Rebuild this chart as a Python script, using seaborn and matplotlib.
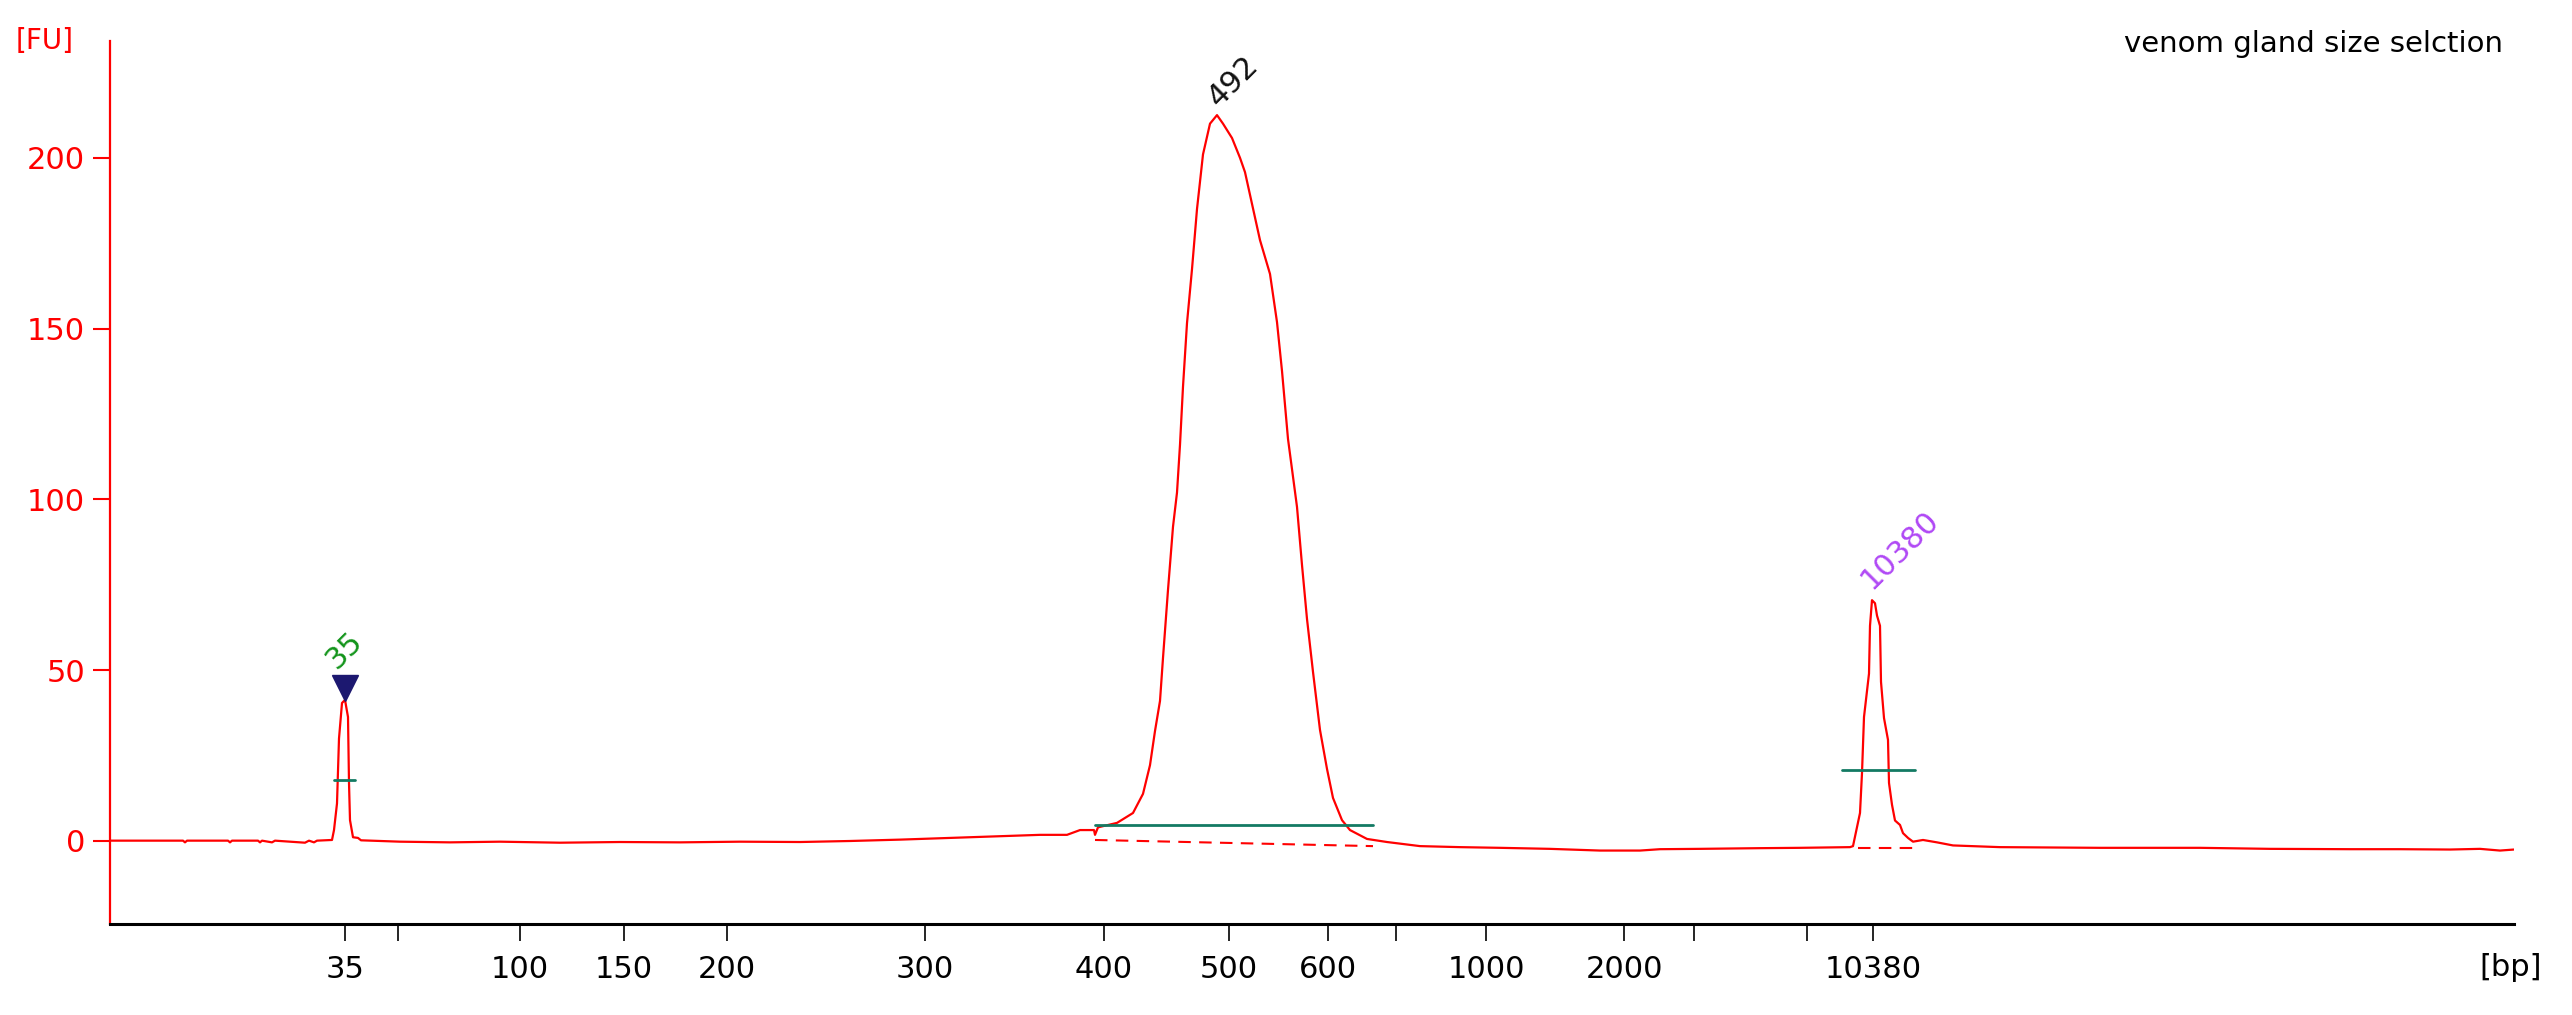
import matplotlib
matplotlib.use("Agg")
import matplotlib.pyplot as plt
import seaborn as sns
import pandas as pd

# ---------------- data ----------------
# migration time (s) and fluorescence (FU)
time_s = [2.75, 4.575, 4.625, 4.675, 5.70, 5.75, 5.80, 6.45, 6.50, 6.55, 6.80, 6.875,
          7.625, 7.725, 7.85, 7.925, 8.30, 8.35, 8.425, 8.475, 8.55, 8.625, 8.70, 8.725,
          8.75, 8.825, 8.95, 9.025, 10.0, 11.25, 12.5, 14.0, 15.5, 17.0, 18.5, 20.0,
          21.25, 22.5, 23.5, 24.5, 25.25, 26.0, 26.675, 27.0, 27.35, 27.375, 27.45,
          27.925, 28.325, 28.575, 28.75, 28.875, 29.0, 29.075, 29.2, 29.325, 29.425,
          29.5, 29.575, 29.675, 29.8, 29.925, 30.075, 30.25, 30.425, 30.575, 30.8,
          31.0, 31.125, 31.3, 31.5, 31.75, 31.925, 32.05, 32.2, 32.425, 32.55, 32.675,
          32.825, 33.0, 33.175, 33.325, 33.55, 33.75, 34.175, 34.675, 35.5, 36.5, 37.5,
          38.75, 40.0, 41.0, 41.5, 42.5, 44.0, 45.0, 46.25, 46.325, 46.4, 46.5, 46.55,
          46.6, 46.725, 46.75, 46.8, 46.875, 46.925, 47.0, 47.025, 47.1, 47.2, 47.225,
          47.3, 47.375, 47.5, 47.575, 47.7, 47.825, 48.075, 48.425, 48.825, 50.0, 52.5,
          55.0, 56.75, 58.75, 60.0, 61.25, 62.0, 62.5, 62.85]
fluor_fu = [0.1, 0.1, -0.4, 0.1, 0.1, -0.4, 0.1, 0.1, -0.4, 0.1, -0.4, 0.1,
            -0.5, 0.1, -0.4, 0.1, 0.3, 3.2, 11.0, 30.0, 40.4, 41.3, 36.3, 17.0,
            6.1, 1.1, 0.9, 0.2, -0.2, -0.4, -0.2, -0.5, -0.3, -0.4, -0.2, -0.3,
            0.0, 0.4, 0.8, 1.2, 1.5, 1.8, 1.8, 3.2, 3.2, 1.8, 4.0,
            5.3, 8.2, 13.8, 22.2, 32.2, 41.0, 53.6, 73.5, 92.0, 102.0,
            116.0, 133.0, 151.6, 167.4, 185.0, 201.0, 210.0, 212.5, 210.0, 205.8,
            200.0, 195.8, 186.5, 175.9, 166.0, 151.9, 137.6, 117.7, 97.8, 80.8, 65.0,
            49.5, 32.5, 21.1, 12.6, 6.1, 3.2, 0.6, -0.3, -1.5, -1.8, -2.0,
            -2.3, -2.8, -2.8, -2.4, -2.3, -2.1, -2.0, -1.8, -1.5, 2.7, 8.2, 19.9,
            36.3, 49.0, 63.0, 70.5, 69.6, 66.0, 63.0, 46.6, 36.0, 29.6, 17.0,
            10.6, 6.0, 4.7, 2.3, 0.9, -0.2, 0.3, -0.4, -1.3, -1.8, -2.0,
            -2.0, -2.3, -2.4, -2.4, -2.5, -2.3, -2.8, -2.5]

# sizing ladder on the time axis
ladder_time = [8.625, 9.95, 13.0, 15.6, 18.175, 23.125, 27.6, 30.725, 33.2, 34.9,
               37.15, 40.6, 42.35, 45.175, 46.825]
ladder_labels = ["35", "", "100", "150", "200", "300", "400", "500", "600", "",
                 "1000", "2000", "", "", "10380"]

# called peaks
peak_time = [8.625, 30.425, 46.825]
peak_height = [41.3, 212.5, 70.5]
peak_labels = ["35", "492", "10380"]
peak_colors = ["#12941a", "#111111", "#b048f5"]

# peak integration windows (start, end, level of the marker line)
win_start = [8.35, 27.375, 46.05]
win_end = [8.875, 34.325, 47.875]
win_level = [17.9, 4.7, 20.8]

# baselines drawn under smear / upper marker
base_start = [27.375, 46.45]
base_end = [34.325, 47.825]
base_start_fu = [0.3, -2.0]
base_end_fu = [-1.5, -2.0]

y_ticks = [0, 50, 100, 150, 200]

# ---------------- plot ----------------
sns.set_theme(style="white")
plt.rcParams['font.family'] = ['DejaVu Sans']

W, H = 2572, 1015
fig = plt.figure(figsize=(W / 100, H / 100), dpi=100)
ax = fig.add_axes([110 / W, 1 - 924 / H, (2514 - 110) / W, (924 - 41) / H])

df = pd.DataFrame({"time": time_s, "FU": fluor_fu})
sns.lineplot(data=df, x="time", y="FU", sort=False, estimator=None,
             color="#ff0000", lw=1.6, ax=ax, zorder=3)

for s, e, lv in zip(win_start, win_end, win_level):
    ax.plot([s, e], [lv, lv], color="#137a63", lw=2.0, zorder=4)

for s, e, a, b in zip(base_start, base_end, base_start_fu, base_end_fu):
    ax.plot([s, e], [a, b], color="#ff0000", lw=1.5, dashes=(6, 4), zorder=2)

# lower marker triangle
ax.plot([peak_time[0]], [peak_height[0] + 3.6], marker="v", ms=18.5,
        color="#1c1870", zorder=5, linestyle="none")

label_offsets = [8.8, 2.0, 3.0]
label_shift = [-8, 2, -1]
for t, h, lab, c, off, sh in zip(peak_time, peak_height, peak_labels, peak_colors,
                                 label_offsets, label_shift):
    ax.annotate(lab, xy=(t, h + off), xytext=(sh, 0), textcoords="offset pixels",
                rotation=45, rotation_mode="anchor", ha="left", va="baseline",
                fontsize=22, color=c, zorder=6)

ax.set_xlim(2.75, 62.85)
ax.set_ylim(-24.3, 234.2)
ax.set_xticks(ladder_time)
ax.set_xticklabels(ladder_labels)
ax.set_yticks(y_ticks)
ax.set_yticklabels([str(v) for v in y_ticks])
ax.set_xlabel("")
ax.set_ylabel("")

for sp in ["top", "right"]:
    ax.spines[sp].set_visible(False)
ax.spines["left"].set_color("#ff0000")
ax.spines["left"].set_linewidth(1.6)
ax.spines["bottom"].set_color("#000000")
ax.spines["bottom"].set_linewidth(2.2)

ax.tick_params(axis="y", direction="out", length=12, width=1.5, color="#ff0000",
               labelcolor="#ff0000", labelsize=22, pad=6, left=True)
ax.tick_params(axis="x", direction="out", length=12, width=1.2, color="#000000",
               labelcolor="#000000", labelsize=22, pad=10, bottom=True)
ax.grid(False)

fig.text(74 / W, 1 - 41 / H, "[FU]", ha="right", va="center", fontsize=20,
         color="#ff0000")
fig.text(2542 / W, 1 - 968 / H, "[bp]", ha="right", va="center", fontsize=22,
         color="#000000")
fig.text(2503 / W, 1 - 52 / H, "venom gland size selction", ha="right",
         va="baseline", fontsize=21, color="#000000")

fig.savefig("out.png", dpi=100, facecolor="white")
